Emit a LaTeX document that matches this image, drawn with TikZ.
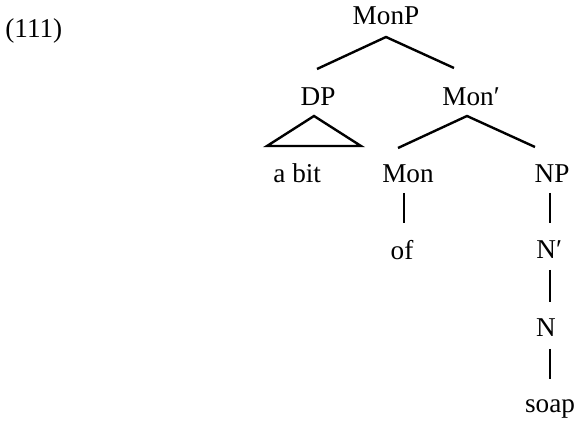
\documentclass[tikz,border=0pt]{standalone}
\usepackage{fontspec}
\setmainfont{Liberation Serif}
\begin{document}
\begin{tikzpicture}[x=0.5pt,y=-0.5pt,
  lbl/.style={inner sep=0pt, anchor=base, font=\fontsize{13.6}{16}\selectfont},
  edge/.style={line width=1.2pt, line cap=butt, line join=miter}]
\useasboundingbox (0,0) rectangle (575,422);
% labels
\node[lbl, anchor=base west] (ex) at (5,38) {(111)};
\node[lbl] (monp) at (386,25) {MonP};
\node[lbl] (dp) at (318,106) {DP};
\node[lbl, anchor=base west] (monbar) at (442,106) {Mon′};
\node[lbl, anchor=base west] (abit) at (273,183) {a bit};
\node[lbl] (mon) at (408,183) {Mon};
\node[lbl] (of) at (402,260) {of};
\node[lbl] (np) at (552,183) {NP};
\node[lbl, anchor=base west] (nbar) at (536,259) {N′};
\node[lbl] (n) at (546,337) {N};
\node[lbl] (soap) at (550,413) {soap};
% branch points
\coordinate (monpB) at (386,37);
\coordinate (dpT) at (317,69);
\coordinate (monbarT) at (454,68);
\coordinate (monbarB) at (467,116);
\coordinate (monT) at (398,148);
\coordinate (npT) at (535,147);
% connectors
\draw[edge] (dpT) -- (monpB) -- (monbarT);
\draw[edge] (monT) -- (monbarB) -- (npT);
\draw[edge] (314,116) -- (267,146) -- (361,146) -- cycle;
\draw[edge] (mon.base) ++(-4,10) -- ++(0,30);
\draw[edge] (np.base) ++(-2,10) -- ++(0,30);
\draw[edge] (nbar.base west) ++(14,11) -- ++(0,32);
\draw[edge] (n.base) ++(4,12) -- ++(0,30);
\end{tikzpicture}
\end{document}
